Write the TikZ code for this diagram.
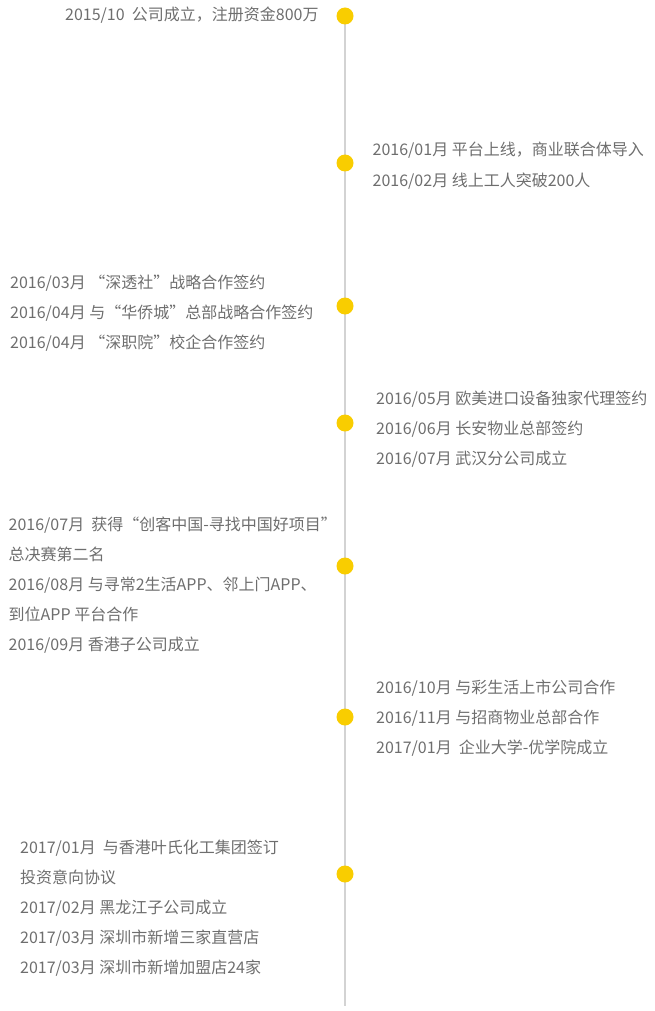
\documentclass[tikz,border=0pt]{standalone}
\usepackage{fontspec}
\setmainfont{Noto Sans CJK SC}
\newfontfamily\fwq[RawFeature=+fwid]{Noto Sans CJK SC}
\newcommand{\qopen}{{\fwq “}}
\newcommand{\qclose}{{\fwq ”}}
\definecolor{txt}{HTML}{6E6E6E}
\definecolor{dotc}{HTML}{F9CD00}
\definecolor{linec}{HTML}{D3D3D3}
\begin{document}
\begin{tikzpicture}[x=1pt,y=-1pt,
  item/.style={anchor=base west, inner sep=0pt, text=txt, font=\fontsize{16}{18}\selectfont},
  dotmark/.style={circle, fill=dotc, minimum size=17pt, inner sep=0pt},
  axis/.style={draw=linec, line width=2pt}]
\useasboundingbox (0,0) rectangle (654,1011);
\coordinate (top) at (345,15);
\coordinate (bot) at (345,1006);
\draw[axis] (top) -- (bot);
\node[dotmark] (d1) at (345,16) {};
\node[dotmark] (d2) at (345,163) {};
\node[dotmark] (d3) at (345,306) {};
\node[dotmark] (d4) at (345,423) {};
\node[dotmark] (d5) at (345,566) {};
\node[dotmark] (d6) at (345,717) {};
\node[dotmark] (d7) at (345,874) {};
% group 1
\node[item] (g1a) at (65,20.5) {2015/10\ \ 公司成立，注册资金800万};
% group 2
\node[item] (g2a) at (372.5,156) {2016/01月 平台上线，商业联合体导入};
\node[item] (g2b) at (372.5,186) {2016/02月 线上工人突破200人};
% group 3
\node[item] (g3a) at (10,288) {2016/03月 \qopen 深透社\qclose 战略合作签约};
\node[item] (g3b) at (10,318) {2016/04月 与\qopen 华侨城\qclose 总部战略合作签约};
\node[item] (g3c) at (10,348) {2016/04月 \qopen 深职院\qclose 校企合作签约};
% group 4
\node[item] (g4a) at (376,404) {2016/05月 欧美进口设备独家代理签约};
\node[item] (g4b) at (376,434) {2016/06月 长安物业总部签约};
\node[item] (g4c) at (376,464) {2016/07月 武汉分公司成立};
% group 5
\node[item] (g5a) at (8.5,530) {2016/07月\ \ 获得\qopen 创客中国-寻找中国好项目\qclose};
\node[item] (g5b) at (8.5,560) {总决赛第二名};
\node[item] (g5c) at (8.5,590) {2016/08月 与寻常2生活APP、邻上门APP、};
\node[item] (g5d) at (8.5,620) {到位APP 平台合作};
\node[item] (g5e) at (8.5,650) {2016/09月 香港子公司成立};
% group 6
\node[item] (g6a) at (376,693) {2016/10月 与彩生活上市公司合作};
\node[item] (g6b) at (376,723) {2016/11月 与招商物业总部合作};
\node[item] (g6c) at (376,753) {2017/01月\ \ 企业大学-优学院成立};
% group 7
\node[item] (g7a) at (20,853) {2017/01月\ \ 与香港叶氏化工集团签订};
\node[item] (g7b) at (20,883) {投资意向协议};
\node[item] (g7c) at (20,913) {2017/02月 黑龙江子公司成立};
\node[item] (g7d) at (20,943) {2017/03月 深圳市新增三家直营店};
\node[item] (g7e) at (20,973) {2017/03月 深圳市新增加盟店24家};
\end{tikzpicture}
\end{document}
